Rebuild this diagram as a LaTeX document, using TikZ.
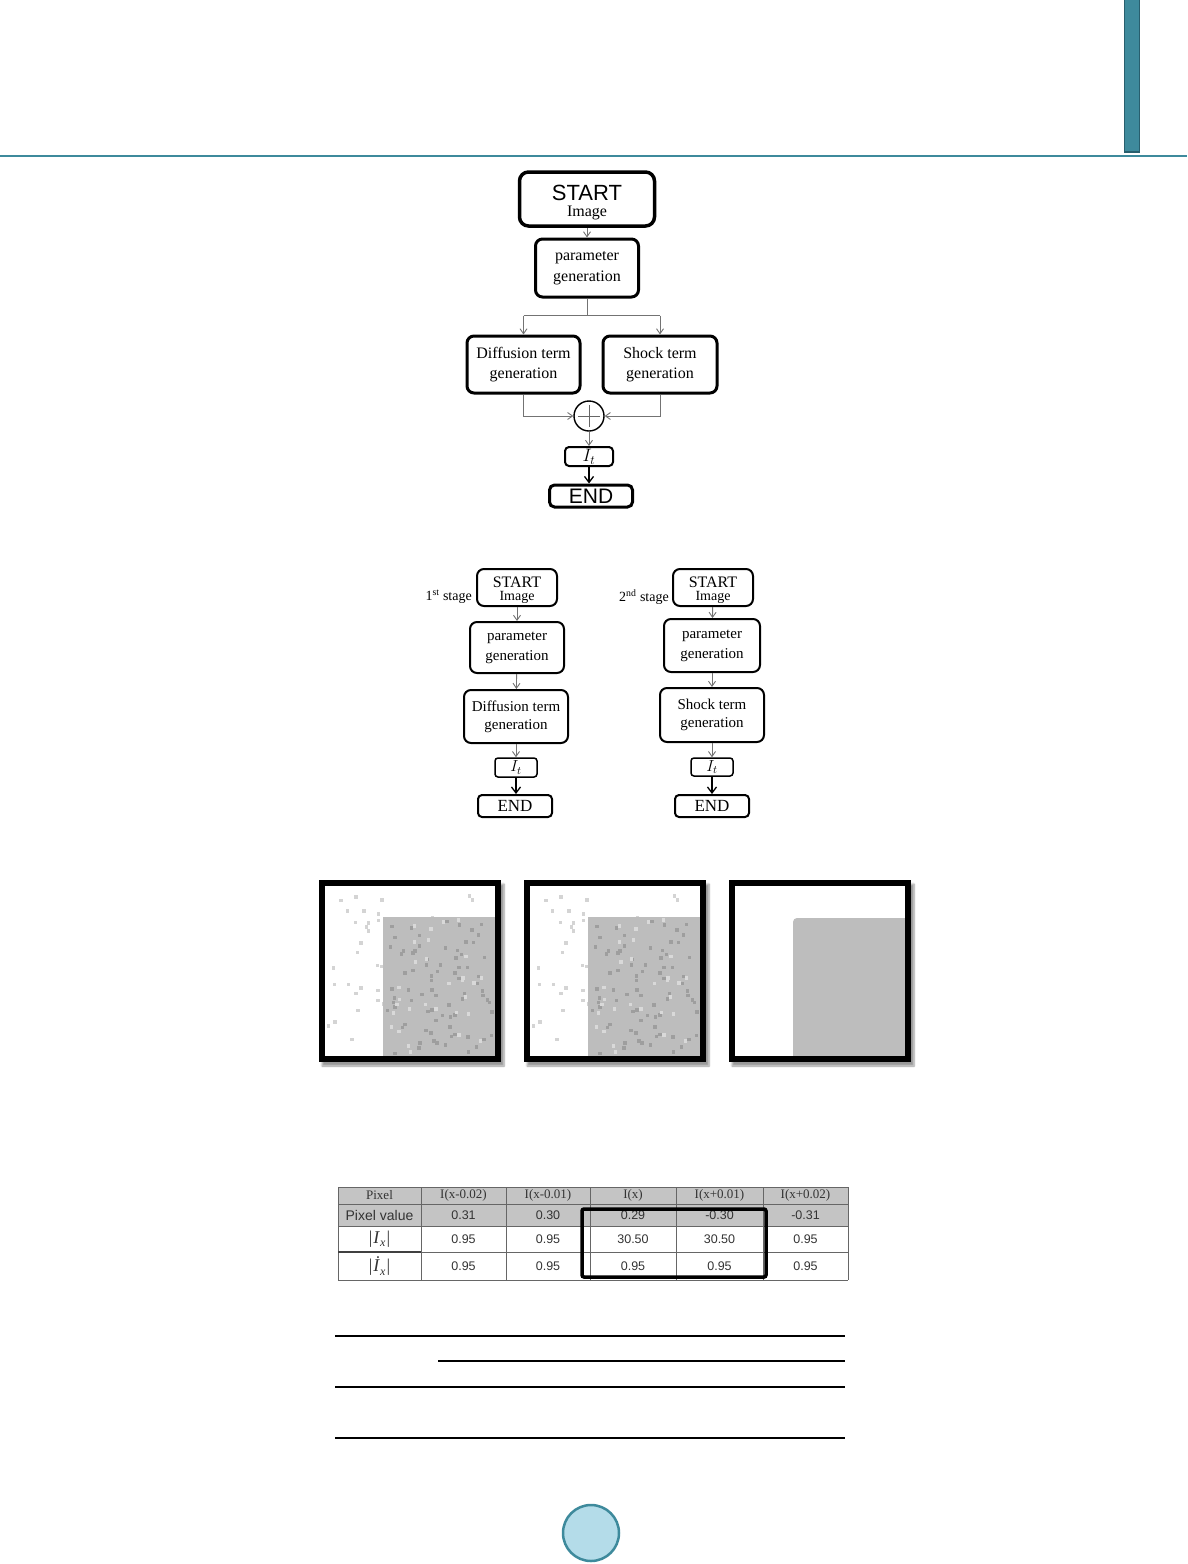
\RequirePackage{fix-cm}
\documentclass[tikz,border=0pt]{standalone}
\usepackage{amsmath}
\usepackage{fontspec}
\setmainfont{Liberation Serif}
\newfontfamily\arial{Liberation Sans}
\usetikzlibrary{shadows.blur,arrows.meta}
\definecolor{hdteal}{HTML}{3E8A9C}
\definecolor{hddark}{HTML}{285F6E}
\definecolor{pgcirc}{HTML}{B4DCE9}
\definecolor{tgray}{HTML}{C4C4C4}
\definecolor{imgray}{HTML}{BDBDBD}
\newcommand{\absI}[1]{|\kern1pt\textit{#1}\raisebox{-3.5pt}{\fontsize{12}{12}\selectfont\textit{x}}\kern1pt|}
\begin{document}
\begin{tikzpicture}[x=1pt,y=-1pt,
    box/.style={draw,line width=2pt,rounded corners=7pt,align=center,inner sep=0pt},
    garrow/.style={-{Straight Barb[length=5pt,width=7pt]},draw=black!55,line width=0.9pt},
    gline/.style={draw=black!55,line width=0.9pt},
    barrow/.style={-{Straight Barb[length=6pt,width=9pt]},draw=black,line width=1.3pt},
    tline/.style={draw=black!60,line width=0.8pt},
    tcell/.style={inner sep=0pt,text=black!80,font=\fontsize{12.5}{12.5}\selectfont}]
  \useasboundingbox (0,0) rectangle (1187,1564);
  % header
  \draw[hdteal,line width=2pt] (0,156) -- (1187,156);
  \filldraw[fill=hdteal,draw=hddark,line width=1.2pt] (1124.5,-2) rectangle (1139.5,152);

  % combined flow
  \node[box,line width=3.5pt,rounded corners=9pt,minimum width=135pt,minimum height=54pt,
        font=\fontsize{16}{16}\selectfont] (S) at (587,199)
        {{\arial\fontsize{22}{22}\selectfont\rule{0pt}{22pt}START}\\Image};
  \node[box,line width=3pt,minimum width=103pt,minimum height=58pt,
        font=\fontsize{16}{21}\selectfont] (P) at (587,268) {parameter\\generation};
  \node[box,line width=3pt,minimum width=113pt,minimum height=57pt,
        font=\fontsize{16}{20}\selectfont] (D) at (523.5,364.5) {Diffusion term\\generation};
  \node[box,line width=3pt,minimum width=114pt,minimum height=57pt,
        font=\fontsize{16}{20}\selectfont] (K) at (660,364.5) {Shock term\\generation};
  \node[circle,draw,line width=1.4pt,minimum size=30pt,inner sep=0pt] (O) at (589,416) {};
  \draw[line width=0.8pt,black!60] (O.center) ++(0,-11) -- ++(0,22) (O.center) ++(-11,0) -- ++(22,0);
  \node[box,rounded corners=4pt,minimum width=48pt,minimum height=19pt,
        font=\fontsize{18}{18}\selectfont] (It) at (589,456.5) {$I_t$};
  \node[box,line width=3pt,rounded corners=5pt,minimum width=83pt,minimum height=22pt,
        font=\arial\fontsize{21}{21}\selectfont] (E) at (591,496) {END};
  \draw[garrow] (S) -- (P);
  \draw[gline] (P.south) -- ++(0,17) coordinate (B);
  \draw[gline] (D.north |- B) -- (K.north |- B);
  \draw[garrow] (D.north |- B) -- (D.north);
  \draw[garrow] (K.north |- B) -- (K.north);
  \draw[garrow] (D.south) |- (O.west);
  \draw[garrow] (K.south) |- (O.east);
  \draw[garrow] (O) -- (It);
  \draw[barrow] (It.south) -- (It.south |- E.north);

  % two stage flows
  \node[box,minimum width=80pt,minimum height=37pt,font=\fontsize{14}{12.5}\selectfont]
        (S1) at (517,587.5) {{\fontsize{16}{16}\selectfont\rule{0pt}{16.5pt}START}\\Image};
  \node[anchor=east,inner sep=0pt,font=\fontsize{14}{14}\selectfont] (L1) at (472,597) {1\textsuperscript{st} stage};
  \node[box,minimum width=94pt,minimum height=51pt,font=\fontsize{15}{20}\selectfont]
        (P1) at (517,647.5) {parameter\\generation};
  \node[box,minimum width=104pt,minimum height=53pt,font=\fontsize{15}{18}\selectfont]
        (D1) at (516,716.5) {Diffusion term\\generation};
  \node[box,line width=1.5pt,rounded corners=3pt,minimum width=42pt,minimum height=19pt,
        font=\fontsize{16}{16}\selectfont] (It1) at (516,767.5) {$I_t$};
  \node[box,rounded corners=4pt,minimum width=74pt,minimum height=22pt,
        font=\fontsize{17}{17}\selectfont] (E1) at (515,806) {END};
  \draw[garrow] (S1) -- (P1);
  \draw[garrow] (P1) -- (D1);
  \draw[garrow] (D1) -- (It1);
  \draw[barrow] (It1.south) -- (It1.south |- E1.north);

  \node[box,minimum width=80pt,minimum height=37pt,font=\fontsize{14}{12.5}\selectfont]
        (S2) at (713,587.5) {{\fontsize{16}{16}\selectfont\rule{0pt}{16.5pt}START}\\Image};
  \node[anchor=east,inner sep=0pt,font=\fontsize{14}{14}\selectfont] (L2) at (669,597) {2\textsuperscript{nd} stage};
  \node[box,minimum width=96pt,minimum height=53pt,font=\fontsize{15}{20}\selectfont]
        (P2) at (712,645.5) {parameter\\generation};
  \node[box,minimum width=104pt,minimum height=54pt,font=\fontsize{15}{18}\selectfont]
        (K2) at (712,715) {Shock term\\generation};
  \node[box,line width=1.5pt,rounded corners=3pt,minimum width=42pt,minimum height=18pt,
        font=\fontsize{16}{16}\selectfont] (It2) at (712,767) {$I_t$};
  \node[box,rounded corners=4pt,minimum width=74pt,minimum height=22pt,
        font=\fontsize{17}{17}\selectfont] (E2) at (712,806) {END};
  \draw[garrow] (S2) -- (P2);
  \draw[garrow] (P2) -- (K2);
  \draw[garrow] (K2) -- (It2);
  \draw[barrow] (It2.south) -- (It2.south |- E2.north);

  % three result images
  \foreach \dx/\sp in {0/1,205/1,410/0} {
    \fill[white,blur shadow={shadow xshift=3pt,shadow yshift=-4pt,shadow blur steps=6}]
      (319+\dx,880) rectangle (501+\dx,1062);
    \ifnum\sp=1
      \pgfmathsetseed{11}
      \foreach \k in {1,...,55} {
        \pgfmathsetmacro{\px}{326+\dx+165*rnd}
        \pgfmathsetmacro{\py}{887+165*rnd}
        \fill[black!17] (\px,\py) rectangle ++(3.5,3.5);
      }
      \fill[imgray] (383+\dx,917) rectangle (495+\dx,1056);
      \pgfmathsetseed{5}
      \foreach \k in {1,...,80} {
        \pgfmathsetmacro{\px}{384+\dx+107*rnd}
        \pgfmathsetmacro{\py}{918+134*rnd}
        \fill[black!38] (\px,\py) rectangle ++(3.5,3.5);
      }
      \foreach \k in {1,...,30} {
        \pgfmathsetmacro{\px}{384+\dx+107*rnd}
        \pgfmathsetmacro{\py}{918+134*rnd}
        \fill[black!15] (\px,\py) rectangle ++(3.5,3.5);
      }
    \else
      \fill[imgray,rounded corners=4pt] (383+\dx,918) -- (500+\dx,918) -- (500+\dx,1060)
        -- (383+\dx,1060) -- cycle;
    \fi
    \draw[line width=6pt] (322+\dx,883) rectangle (498+\dx,1059);
  }

  % table
  \fill[tgray] (338,1187) rectangle (848,1226);
  \foreach \xx in {338,421,506,590,676,763,848}
    \draw[tline] (\xx,1187) -- (\xx,1280);
  \foreach \yy in {1187,1204,1226,1252,1280}
    \draw[tline] (338,\yy) -- (848,\yy);
  \draw[line width=1.6pt,black!75] (338,1252) -- (421,1252);
  \foreach \cx/\t [count=\i] in {379.5/Pixel,463.5/I(x-0.02),548/I(x-0.01),633/I(x),719.5/I(x+0.01),805.5/I(x+0.02)}
    \node[tcell,font=\fontsize{13}{13}\selectfont] (h\i) at (\cx,1195.5) {\t};
  \node[tcell,font=\arial\fontsize{14}{14}\selectfont] (v1) at (379.5,1215) {Pixel value};
  \foreach \cx/\t [count=\i from 2] in {463.5/0.31,548/0.30,633/0.29,719.5/-0.30,805.5/-0.31}
    \node[tcell,font=\arial\fontsize{12.5}{12.5}\selectfont] (v\i) at (\cx,1215) {\t};
  \node[tcell,font=\fontsize{18}{18}\selectfont] (a1) at (379.5,1239) {\absI{I}};
  \foreach \cx/\t [count=\i from 2] in {463.5/0.95,548/0.95,633/30.50,719.5/30.50,805.5/0.95}
    \node[tcell,font=\arial\fontsize{12.5}{12.5}\selectfont] (a\i) at (\cx,1239) {\t};
  \node[tcell,font=\fontsize{18}{18}\selectfont] (b1) at (379.5,1266) {\absI{İ}};
  \foreach \cx/\t [count=\i from 2] in {463.5/0.95,548/0.95,633/0.95,719.5/0.95,805.5/0.95}
    \node[tcell,font=\arial\fontsize{12.5}{12.5}\selectfont] (b\i) at (\cx,1266) {\t};
  \draw[line width=3.5pt,rounded corners=2pt] (582,1209) rectangle (766,1277);

  % empty rules
  \draw[line width=1.2pt] (335,1336) -- (845,1336);
  \draw[line width=1.2pt] (438,1361) -- (845,1361);
  \draw[line width=1.2pt] (335,1387) -- (845,1387);
  \draw[line width=1.2pt] (335,1438) -- (845,1438);

  % page mark
  \node[circle,fill=pgcirc,draw=hdteal,line width=2.5pt,minimum size=56pt,inner sep=0pt] (pg) at (591,1533) {};
\end{tikzpicture}
\end{document}
